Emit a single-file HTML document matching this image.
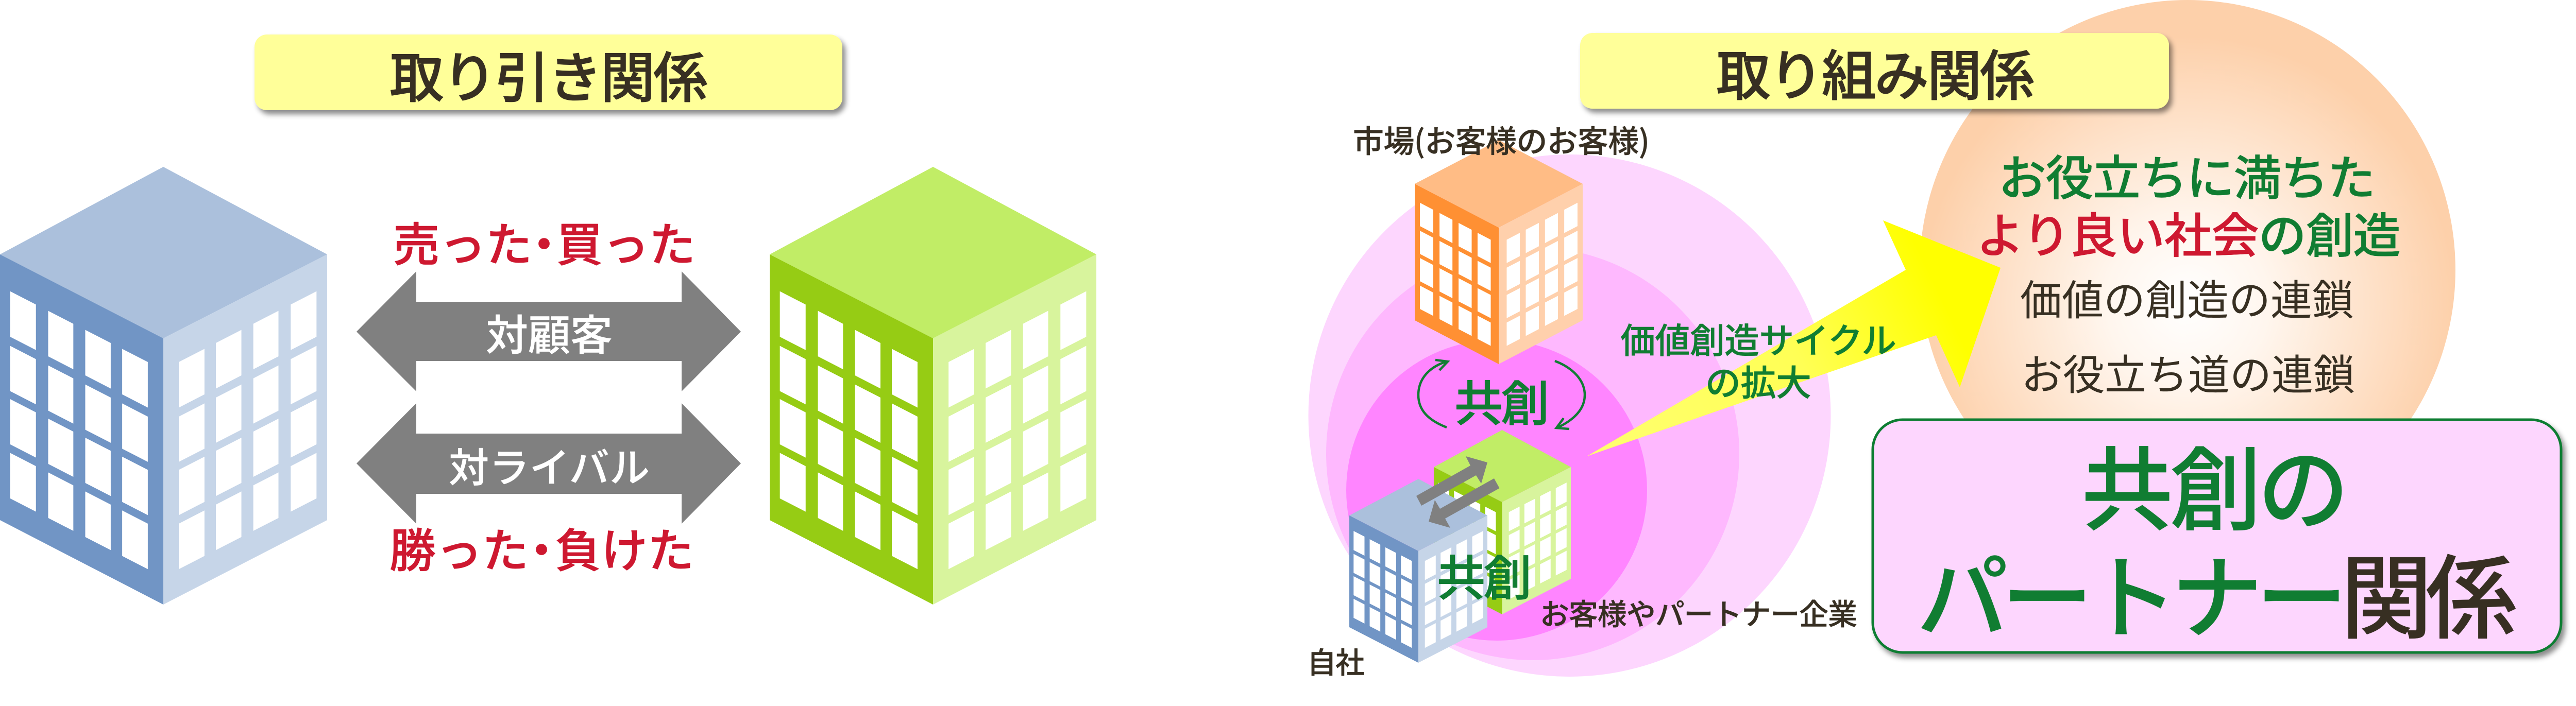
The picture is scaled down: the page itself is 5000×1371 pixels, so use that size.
<!DOCTYPE html>
<html lang="ja"><head><meta charset="utf-8">
<style>
html,body{margin:0;padding:0;background:#fff;width:5000px;height:1371px;overflow:hidden}
svg{display:block}
text{font-family:"Liberation Sans","Noto Sans CJK JP",sans-serif;font-weight:500;text-anchor:middle;stroke-linejoin:round}
.d{fill:#372f22;stroke:#372f22;stroke-width:.4}
.g{fill:#107d32;stroke:#107d32;stroke-width:.4}
.r{fill:#ce1830;stroke:#ce1830;stroke-width:.4}
.w{fill:#fff;stroke:#fff;stroke-width:.4}
.n{stroke-width:0}
</style></head><body>
<svg xmlns="http://www.w3.org/2000/svg" width="5000" height="1371" viewBox="0 0 5000 1371">
<defs>
<filter id="sh" x="-5%" y="-20%" width="110%" height="140%"><feDropShadow dx="6" dy="8" stdDeviation="5" flood-color="#000" flood-opacity=".45"/></filter>
<radialGradient id="sun" gradientUnits="userSpaceOnUse" cx="4246" cy="590" r="520"><stop offset="0" stop-color="#fff"/><stop offset=".3" stop-color="#fff6ee"/><stop offset="1" stop-color="#fdd0aa"/></radialGradient>
<linearGradient id="yl" gradientUnits="userSpaceOnUse" x1="3080" y1="886" x2="3760" y2="560"><stop offset="0" stop-color="#ffff70"/><stop offset=".6" stop-color="#ffff55"/><stop offset="1" stop-color="#ffff00"/></linearGradient>
<g id="wn" fill="#fff">
<rect x=".062" y=".119" width=".158" height=".171"/><rect x=".295" y=".119" width=".154" height=".171"/><rect x=".522" y=".119" width=".156" height=".171"/><rect x=".748" y=".119" width=".157" height=".171"/>
<rect x=".062" y=".324" width=".158" height=".170"/><rect x=".295" y=".324" width=".154" height=".170"/><rect x=".522" y=".324" width=".156" height=".170"/><rect x=".748" y=".324" width=".157" height=".170"/>
<rect x=".062" y=".524" width=".158" height=".170"/><rect x=".295" y=".524" width=".154" height=".170"/><rect x=".522" y=".524" width=".156" height=".170"/><rect x=".748" y=".524" width=".157" height=".170"/>
<rect x=".062" y=".726" width=".158" height=".171"/><rect x=".295" y=".726" width=".154" height=".171"/><rect x=".522" y=".726" width=".156" height=".171"/><rect x=".748" y=".726" width=".157" height=".171"/>
</g>
</defs>

<!-- LEFT: headline -->
<rect x="494" y="67" width="1141" height="147" rx="24" fill="#ffff99" filter="url(#sh)"/>
<text x="1065" y="189" font-size="106" textLength="618" class="d" style="stroke-width:1">取り引き関係</text>

<!-- blue building -->
<polygon points="317,324 635,494 317,657 0,494" fill="#abc0dc"/>
<polygon points="0,494 317,657 317,1174 0,1010" fill="#7195c5"/>
<polygon points="635,494 317,657 317,1174 635,1010" fill="#c6d5e8"/>
<use href="#wn" transform="matrix(317,163,0,517,0,494)"/>
<use href="#wn" transform="matrix(-317,163,0,517,634,494)"/>

<!-- green building -->
<polygon points="1811,324 2128,494 1811,657 1494,494" fill="#c1ed66"/>
<polygon points="1494,494 1811,657 1811,1174 1494,1010" fill="#96cc14"/>
<polygon points="2128,494 1811,657 1811,1174 2128,1010" fill="#d8f49d"/>
<use href="#wn" transform="matrix(317,163,0,517,1494,494)"/>
<use href="#wn" transform="matrix(-317,163,0,517,2128,494)"/>

<!-- double arrows -->
<polygon points="692,644 808,527 808,586 1323,586 1323,527 1438,644 1323,760 1323,701 808,701 808,760" fill="#808080"/>
<polygon points="692,900 808,783 808,842 1323,842 1323,783 1438,900 1323,1017 1323,959 808,959 808,1017" fill="#808080"/>
<text y="507" font-size="90" class="r" style="stroke-width:.8"><tspan x="898">売った</tspan><tspan x="1056">・</tspan><tspan x="1215">買った</tspan></text>
<text x="1066" y="680" font-size="82" textLength="246" class="w">対顧客</text>
<text x="1066" y="936" font-size="78" textLength="390" class="w">対ライバル</text>
<text y="1101" font-size="90" class="r" style="stroke-width:.8"><tspan x="891">勝った</tspan><tspan x="1051">・</tspan><tspan x="1212">負けた</tspan></text>

<!-- RIGHT: big sun circle -->
<ellipse cx="4246" cy="524" rx="520" ry="524" fill="url(#sun)"/>

<!-- concentric circles -->
<circle cx="3046.5" cy="807" r="507" fill="#fdd6fe"/>
<circle cx="2975" cy="881" r="401" fill="#feb8fe"/>
<circle cx="2905" cy="952" r="292" fill="#ff85ff"/>

<!-- headline -->
<rect x="3067" y="64" width="1143" height="147" rx="24" fill="#ffff99" filter="url(#sh)"/>
<text x="3640" y="185" font-size="106" textLength="618" class="d" style="stroke-width:1">取り組み関係</text>

<!-- yellow arrow -->
<polygon points="3080,886 3699,524 3655,428 3883,520 3804,752 3758,651" fill="url(#yl)"/>

<!-- orange building -->
<polygon points="2909,272 3072,357 2909,442 2746,357" fill="#ffbc85"/>
<polygon points="2746,357 2909,442 2909,707 2746,622" fill="#ff9033"/>
<polygon points="3072,357 2909,442 2909,707 3072,622" fill="#ffd0ac"/>
<use href="#wn" transform="matrix(163,85,0,265,2746,357)"/>
<use href="#wn" transform="matrix(-163,85,0,265,3072,357)"/>
<text x="2914" y="296" font-size="60" textLength="576" class="d" style="font-family:'Noto Sans CJK JP',sans-serif">市場(お客様のお客様)</text>

<!-- cycle arcs -->
<g fill="none" stroke="#107d32" stroke-width="4.5">
<path d="M2808,830 C2770,815 2753,795 2753,767 C2753,735 2775,712 2808,702"/>
<path d="M2786,699 L2810,702 L2794,719"/>
<path d="M3018,701 C3055,715 3076,740 3076,767 C3076,795 3055,815 3024,830"/>
<path d="M3046,833 L3021,831 L3035,812"/>
</g>
<text x="2915" y="817" font-size="94" textLength="184" class="g" style="stroke-width:.8">共創</text>

<!-- small green building -->
<polygon points="2915.5,835 3049,907 2915.5,975 2783,907" fill="#c1ed66"/>
<polygon points="2783,907 2915.5,975 2915.5,1193 2783,1124" fill="#96cc14"/>
<polygon points="3049,907 2915.5,975 2915.5,1193 3049,1124" fill="#d8f49d"/>
<use href="#wn" transform="matrix(133,68,0,218,2783,907)"/>
<use href="#wn" transform="matrix(-133,68,0,218,3049,907)"/>

<!-- small blue building -->
<polygon points="2753,930 2887,1001 2753,1070 2619,1001" fill="#abc0dc"/>
<polygon points="2619,1001 2753,1070 2753,1287 2619,1218" fill="#7195c5"/>
<polygon points="2887,1001 2753,1070 2753,1287 2887,1218" fill="#c6d5e8"/>
<use href="#wn" transform="matrix(134,69,0,217,2619,1001)"/>
<use href="#wn" transform="matrix(-134,69,0,217,2887,1001)"/>

<!-- small gray arrows -->
<polygon points="2749,963 2759,982 2865,923 2875,939 2887,898 2845,886 2854,904" fill="#808080"/>
<polygon points="2900,929 2910.5,948 2805,1007 2815,1025 2773,1013 2785,971 2795,988" fill="#808080"/>

<text x="2881" y="1156" font-size="94" textLength="184" class="g" style="stroke-width:.8">共創</text>
<text x="3297" y="1213" font-size="57" textLength="616" class="d">お客様やパートナー企業</text>
<text x="2593" y="1307" font-size="57" textLength="112" class="d">自社</text>

<text x="3413" y="686" font-size="68" textLength="536" class="g">価値創造サイクル</text>
<text x="3413" y="768" font-size="69" textLength="206" class="g">の拡大</text>

<!-- sun text -->
<text x="4245" y="379" font-size="93" textLength="732" class="g">お役立ちに満ちた</text>
<text x="4248" y="491" font-size="93" textLength="824"><tspan class="r">より良い社会</tspan><tspan class="g">の創造</tspan></text>
<text x="4245" y="612" font-size="81" textLength="648" class="d n" style="font-weight:400">価値の創造の連鎖</text>
<text x="4247" y="757" font-size="81" textLength="648" class="d n" style="font-weight:400">お役立ち道の連鎖</text>

<!-- pink box -->
<rect x="3635" y="815" width="1336" height="452" rx="58" fill="#fdd6fe" stroke="#107d32" stroke-width="5" filter="url(#sh)"/>
<text x="4300" y="1015" font-size="178" textLength="520" class="g">共創の</text>
<text x="4303" y="1225" font-size="178" textLength="1166"><tspan class="g">パートナー</tspan><tspan class="d">関係</tspan></text>
</svg>
</body></html>
